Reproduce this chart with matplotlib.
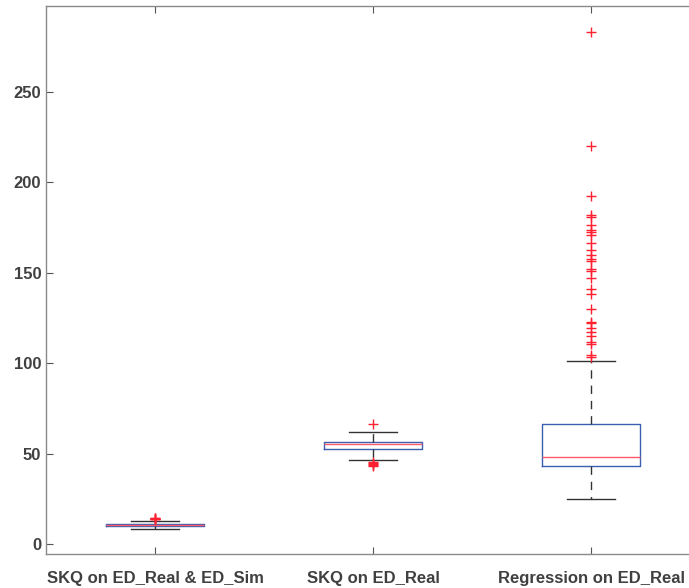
import numpy as np
import matplotlib.pyplot as plt

# group names
labels = ['SKQ on ED_Real & ED_Sim', 'SKQ on ED_Real', 'Regression on ED_Real']

# box stats
whislo = [8.3, 46.6, 24.9]
q1 = [10.0, 52.7, 43.0]
med = [10.5, 55.1, 48.3]
q3 = [10.9, 56.6, 66.2]
whishi = [12.7, 61.9, 101.2]

# outliers
fliers_1 = [13.6, 13.9, 14.1, 14.3, 14.5]
fliers_2 = [66.2, 45.5, 44.8, 44.2, 43.6, 43.0]
fliers_3 = [283.2, 220.0, 192.5, 182.0, 181.0, 176.4, 173.7, 172.6, 170.9,
            166.5, 162.6, 159.8, 157.6, 156.5, 152.1, 151.0, 147.1, 141.0,
            138.3, 130.0, 122.8, 122.2, 119.5, 117.3, 115.0, 111.7, 110.6,
            104.5, 103.4]
fliers = [fliers_1, fliers_2, fliers_3]

stats = []
for i in range(3):
    stats.append(dict(whislo=whislo[i], q1=q1[i], med=med[i], q3=q3[i],
                      whishi=whishi[i], fliers=fliers[i], label=labels[i]))

plt.rcParams['font.family'] = ['Liberation Sans', 'DejaVu Sans']

fig = plt.figure(figsize=(6.89, 5.88), dpi=100)
# axes run a bit past the right edge, like the cropped reference
ax = fig.add_axes([46 / 689, 34 / 588, 654 / 689, 548 / 588])

ax.bxp(stats, positions=[1, 2, 3], widths=0.45, showfliers=True,
       boxprops=dict(color='#3a5fb0', linewidth=1.0),
       medianprops=dict(color='#ff5a6a', linewidth=1.0),
       whiskerprops=dict(color='#333333', linestyle=(0, (6, 5)), linewidth=1.0),
       capprops=dict(color='#333333', linewidth=1.0),
       capwidths=0.22,
       flierprops=dict(marker='+', markeredgecolor='#ff2030', markersize=6.5,
                       markeredgewidth=1.0, linestyle='none'))

ax.set_xlim(0.5, 3.5)
ax.set_ylim(-5.5, 297.5)
ax.set_yticks([0, 50, 100, 150, 200, 250])

for s in ax.spines.values():
    s.set_color('#8a8a8a')
    s.set_linewidth(1.0)
ax.spines['right'].set_visible(False)

ax.tick_params(direction='in', top=True, right=False, length=5, color='#555555',
               labelsize=12, labelcolor='#404040')
ax.tick_params(axis='x', pad=12)
for t in ax.get_xticklabels() + ax.get_yticklabels():
    t.set_fontweight('bold')

fig.savefig('out.png', dpi=100)
